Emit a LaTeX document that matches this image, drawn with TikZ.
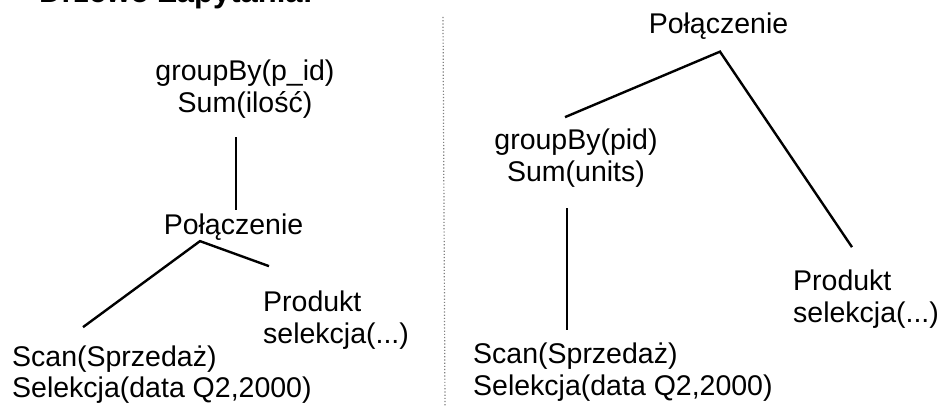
\documentclass[tikz,border=0pt]{standalone}
\usepackage{fontspec}
\setmainfont{Liberation Sans}
\begin{document}
\begin{tikzpicture}[x=1pt,y=1pt]
	\tikzstyle{Label} = [inner sep=0pt, font=\fontsize{28.5}{32}\selectfont]
	\tikzstyle{Title} = [inner sep=0pt, font=\fontsize{31}{36}\selectfont\bfseries]
	\tikzstyle{link} = [line width=2.4pt, black]
	\tikzstyle{divider} = [gray, dotted, line width=1.2pt]
	
	\useasboundingbox (0,0) rectangle (943,407);
	\clip (0,0) rectangle (943,407);
	
	\node (title) [Title, anchor=base west] at (39,404) {Drzewo Zapytania:};
	\draw [divider] (443,390) -- (445,0);
	
	\node (gb1) [Label, align=center, anchor=base] at (245,294) {groupBy(p\_id)\\Sum(ilość)};
	\node (join1) [Label, anchor=base] at (233.5,172) {Połączenie};
	\node (prod1) [Label, align=left, anchor=base west] at (263,63) {Produkt\\selekcja(...)};
	\node (scan1) [Label, align=left, anchor=base west] at (12,9) {Scan(Sprzedaż)\\Selekcja(data Q2,2000)};
	
	\draw [link] ([xshift=-9pt,yshift=-18pt]gb1.south) -- ([xshift=2.5pt,yshift=4pt]join1.north);
	\draw [link] ([xshift=71pt,yshift=18pt]scan1.north west) -- ([xshift=-33.5pt]join1.south) -- ([xshift=6pt,yshift=25pt]prod1.north west);
	
	\node (join2) [Label, anchor=base] at (718.5,373) {Połączenie};
	\node (gb2) [Label, align=center, anchor=base] at (576,225) {groupBy(pid)\\Sum(units)};
	\node (prod2) [Label, align=left, anchor=base west] at (793,84) {Produkt\\selekcja(...)};
	\node (scan2) [Label, align=left, anchor=base west] at (473,11) {Scan(Sprzedaż)\\Selekcja(data Q2,2000)};
	
	\draw [link] ([xshift=-11pt,yshift=12pt]gb2.north) -- ([xshift=1.5pt,yshift=-11.5pt]join2.south) -- ([xshift=59pt,yshift=23pt]prod2.north west);
	\draw [link] ([xshift=-9pt,yshift=-20pt]gb2.south) -- ([xshift=94pt,yshift=13pt]scan2.north west);
\end{tikzpicture}
\end{document}
